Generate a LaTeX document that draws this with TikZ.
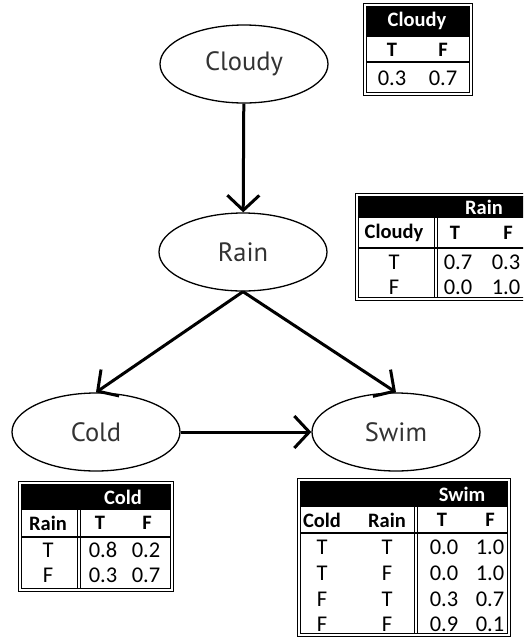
\documentclass[tikz,border=0pt]{standalone}
\usepackage{fontspec}
\setmainfont{Carlito}
\newfontfamily\varfont{PT Sans}
\usetikzlibrary{shapes.geometric,arrows.meta}

\tikzset{
  var/.style={ellipse,draw,line width=1.3pt,minimum width=168pt,minimum height=78pt,inner sep=0pt,
    font=\varfont\fontsize{26.5}{30}\selectfont,text=black!80},
  edge/.style={line width=3pt,-{Straight Barb[length=15pt,width=32pt]}},
  cell/.style={inner sep=0pt,font=\fontsize{22.5}{25}\selectfont},
  headcell/.style={inner sep=0pt,font=\bfseries\fontsize{20.5}{25}\selectfont},
  frame/.style={line width=1pt},
}

\begin{document}
\begin{tikzpicture}[x=1pt,y=-1pt]
		\useasboundingbox (0,0) rectangle (523,638);
		\clip (0,0) rectangle (523,638);

		% network
		\node[var] (cloudy) at (244,64) {Cloudy};
		\node[var] (rain) at (243,252) {Rain};
		\node[var] (cold) at (96,432) {Cold};
		\node[var] (swim) at (396,432) {Swim};

		\draw[edge] (cloudy) -- (rain);
		\draw[edge] (rain.south) -- (cold.north);
		\draw[edge] (rain.south) -- (swim.north);
		\draw[edge] (cold) -- (swim);

		% table for Cloudy
		\draw[frame] (363,3) rectangle (472,95);
		\draw[frame] (366,6) rectangle (469,92);
		\fill (366,6) rectangle (469,37);
		\draw[line width=1.2pt] (366,62) -- (469,62);
		\node[headcell,text=white] (cloudyH) at (417,21) {Cloudy};
		\node[headcell] (cloudyT) at (392,50) {T};
		\node[headcell] (cloudyF) at (443,50) {F};
		\node[cell] (cloudyPT) at (392,78) {0.3};
		\node[cell] (cloudyPF) at (443,78) {0.7};

		% table for Rain
		\draw[frame] (355,193) rectangle (540,300);
		\draw[frame] (358,196) rectangle (537,297);
		\fill (358,196) rectangle (537,218);
		\draw[line width=1.2pt] (358,248) -- (537,248);
		\draw[frame] (434,218) -- (434,297);
		\draw[frame] (437,218) -- (437,297);
		\node[headcell,text=white] (rainH) at (484,207) {Rain};
		\node[headcell] (rainC) at (394,233) {Cloudy};
		\node[headcell] (rainT) at (455,233) {T};
		\node[headcell] (rainF) at (508,233) {F};
		\node[cell] (rain1) at (394,262) {T};
		\node[cell] (rain1T) at (458,262) {0.7};
		\node[cell] (rain1F) at (506,262) {0.3};
		\node[cell] (rain2) at (394,287) {F};
		\node[cell] (rain2T) at (458,287) {0.0};
		\node[cell] (rain2F) at (506,287) {1.0};

		% table for Cold
		\draw[frame] (18,481) rectangle (173,591);
		\draw[frame] (21,484) rectangle (170,588);
		\fill (21,484) rectangle (170,510);
		\draw[line width=1.2pt] (21,537) -- (170,537);
		\draw[frame] (77,510) -- (77,588);
		\draw[frame] (80,510) -- (80,588);
		\node[headcell,text=white] (coldH) at (123,497) {Cold};
		\node[headcell] (coldR) at (48,523) {Rain};
		\node[headcell] (coldT) at (100,523) {T};
		\node[headcell] (coldF) at (147,523) {F};
		\node[cell] (cold1) at (48,550) {T};
		\node[cell] (cold1T) at (103,550) {0.8};
		\node[cell] (cold1F) at (146,550) {0.2};
		\node[cell] (cold2) at (48,575) {F};
		\node[cell] (cold2T) at (103,575) {0.3};
		\node[cell] (cold2F) at (146,575) {0.7};

		% table for Swim
		\draw[frame] (297,478) rectangle (510,636);
		\draw[frame] (300,481) rectangle (507,633);
		\fill (300,481) rectangle (507,507);
		\draw[line width=1.2pt] (300,533) -- (507,533);
		\draw[frame] (414,507) -- (414,633);
		\draw[frame] (417,507) -- (417,633);
		\node[headcell,text=white] (swimH) at (462,494) {Swim};
		\node[headcell] (swimC) at (322,520) {Cold};
		\node[headcell] (swimR) at (387,520) {Rain};
		\node[headcell] (swimT) at (442,520) {T};
		\node[headcell] (swimF) at (490,520) {F};
		\node[cell] (swim1C) at (322,547) {T};
		\node[cell] (swim1R) at (387,547) {T};
		\node[cell] (swim1T) at (444,547) {0.0};
		\node[cell] (swim1F) at (490,547) {1.0};
		\node[cell] (swim2C) at (322,573) {T};
		\node[cell] (swim2R) at (387,573) {F};
		\node[cell] (swim2T) at (444,573) {0.0};
		\node[cell] (swim2F) at (490,573) {1.0};
		\node[cell] (swim3C) at (322,599) {F};
		\node[cell] (swim3R) at (387,599) {T};
		\node[cell] (swim3T) at (444,599) {0.3};
		\node[cell] (swim3F) at (490,599) {0.7};
		\node[cell] (swim4C) at (322,624) {F};
		\node[cell] (swim4R) at (387,624) {F};
		\node[cell] (swim4T) at (444,624) {0.9};
		\node[cell] (swim4F) at (490,624) {0.1};

	\end{tikzpicture}
\end{document}
